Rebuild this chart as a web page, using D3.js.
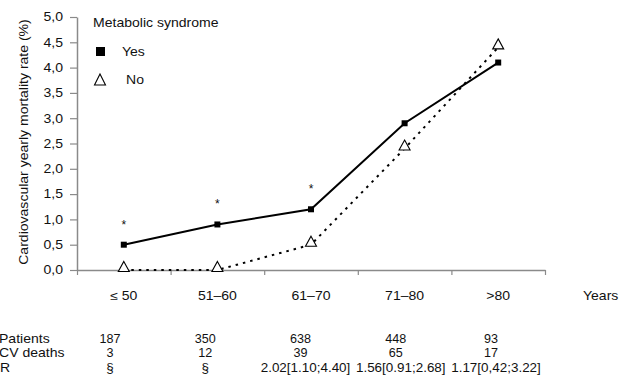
<!DOCTYPE html>
<html>
<head>
<meta charset="utf-8">
<script src="https://cdn.jsdelivr.net/npm/d3@7"></script>
<style>
  html, body { margin: 0; padding: 0; background: #fff; }
  svg { display: block; }
  text { font-family: "Liberation Sans", Arial, Helvetica, sans-serif; font-size: 12px; fill: #111; }
</style>
</head>
<body>
<svg id="chart" width="620" height="380"></svg>
<script>
// ---- data ----
const categories = ["≤ 50", "51–60", "61–70", "71–80", ">80"];
const yesValues = [0.5, 0.9, 1.2, 2.9, 4.1];
const noValues = [0.0, 0.0, 0.5, 2.4, 4.4];
const significant = [true, true, true, false, false];
const yTicks = [0, 0.5, 1, 1.5, 2, 2.5, 3, 3.5, 4, 4.5, 5];
const rowLabels = ["Patients", "CV deaths", "R"];
const patients = ["187", "350", "638", "448", "93"];
const cvDeaths = ["3", "12", "39", "65", "17"];
const hazard = ["§", "§", "2.02[1.10;4.40]", "1.56[0.91;2.68]", "1.17[0,42;3.22]"];
const yLabel = "Cardiovascular yearly mortality rate (%)";
const legendTitle = "Metabolic syndrome";
const legendItems = ["Yes", "No"];
const xUnit = "Years";

// ---- layout ----
const SX = 1.17; // wide glyphs of the original typeface
const svg = d3.select("#chart");
const x = d3.scaleBand().domain(categories).range([77, 545]).padding(0);
const cx = c => x(c) + x.bandwidth() / 2;
const xb = d3.scaleLinear().domain([0, categories.length]).range([77, 545]);
const y = d3.scaleLinear().domain([0, 5]).range([270, 17]);
const tableX = d3.scalePoint().domain(categories).range([110, 491]);
const axisColor = "#8a8a8a";

function txt(g, px, py, str, anchor, size, sx) {
  return g.append("text")
    .attr("transform", `translate(${px},${py}) scale(${sx || SX},1)`)
    .attr("text-anchor", anchor || "start")
    .style("font-size", (size || 12) + "px")
    .text(str);
}

// y axis
const gy = svg.append("g").attr("transform", "translate(77,0)")
  .call(d3.axisLeft(y).tickValues(yTicks)
    .tickFormat(d => d.toFixed(1).replace(".", ","))
    .tickSize(7).tickSizeOuter(0).tickPadding(5));
gy.select(".domain").attr("stroke", axisColor).attr("stroke-width", 1.5);
gy.selectAll(".tick line").attr("stroke", axisColor).attr("stroke-width", 1.2);
gy.selectAll(".tick text").attr("font-family", null).attr("font-size", null)
  .style("font-size", "12px").style("fill", "#111")
  .attr("transform", `scale(${SX},1)`);

// x axis (ticks at band boundaries)
const gx = svg.append("g").attr("transform", "translate(0,270)")
  .call(d3.axisBottom(xb).ticks(categories.length).tickFormat("")
    .tickSize(5).tickSizeOuter(0));
gx.select(".domain").attr("stroke", axisColor).attr("stroke-width", 1.5);
gx.selectAll(".tick line").attr("stroke", axisColor).attr("stroke-width", 1.2);

// x category labels
categories.forEach(c => txt(svg, cx(c), 300, c, "middle"));
txt(svg, 583, 300, xUnit, "start");

// y axis title
svg.append("text")
  .attr("transform", `translate(28,142) rotate(-90) scale(${SX},1)`)
  .attr("text-anchor", "middle")
  .style("font-size", "12px")
  .text(yLabel);

// lines
const lineGen = d3.line().x((d, i) => cx(categories[i])).y(d => y(d));
svg.append("path").datum(noValues)
  .attr("d", lineGen).attr("fill", "none").attr("stroke", "#000")
  .attr("stroke-width", 2).attr("stroke-dasharray", "2.5,5");
svg.append("path").datum(yesValues)
  .attr("d", lineGen).attr("fill", "none").attr("stroke", "#000")
  .attr("stroke-width", 2);

// markers
const triPath = (w, h) => `M0,${-h / 2 - 1}L${w / 2},${h / 2}L${-w / 2},${h / 2}Z`;
svg.selectAll(".tri").data(noValues).enter().append("path")
  .attr("class", "tri")
  .attr("transform", (d, i) => `translate(${cx(categories[i])},${y(d) - 3})`)
  .attr("d", triPath(11, 9))
  .attr("fill", "#fff").attr("stroke", "#000").attr("stroke-width", 1.1);
svg.selectAll(".sq").data(yesValues).enter().append("rect")
  .attr("class", "sq")
  .attr("x", (d, i) => cx(categories[i]) - 3)
  .attr("y", d => y(d) - 3)
  .attr("width", 6).attr("height", 6).attr("fill", "#000");

// significance stars
significant.forEach((s, i) => {
  if (!s) return;
  svg.append("text")
    .attr("x", cx(categories[i]))
    .attr("y", y(yesValues[i]) - 16)
    .attr("text-anchor", "middle")
    .style("font-size", "12px")
    .text("*");
});

// legend
txt(svg, 93, 27, legendTitle, "start");
svg.append("rect").attr("x", 96).attr("y", 47).attr("width", 9).attr("height", 9).attr("fill", "#000");
txt(svg, 122, 56, legendItems[0], "start");
svg.append("path").attr("transform", "translate(100,80)").attr("d", triPath(11, 10))
  .attr("fill", "#fff").attr("stroke", "#000").attr("stroke-width", 1.1);
txt(svg, 126, 84, legendItems[1], "start");

// table
const rowsY = [343, 357, 372];
rowLabels.forEach((r, k) => txt(svg, k === 2 ? 0 : -1, rowsY[k], r, "start"));
categories.forEach((c, i) => {
  txt(svg, tableX(c), rowsY[0], patients[i], "middle", 12, 1.05);
  txt(svg, tableX(c), rowsY[1], cvDeaths[i], "middle", 12, 1.05);
  txt(svg, tableX(c) + (i >= 2 ? 5 : 0), rowsY[2], hazard[i], "middle", 12, 1.12);
});
</script>
</body>
</html>
